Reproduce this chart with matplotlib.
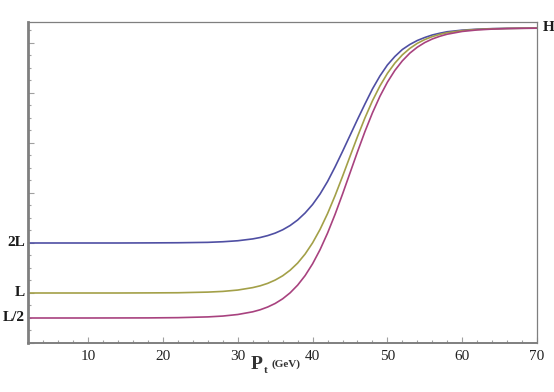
import numpy as np
import matplotlib
matplotlib.use('Agg')
from matplotlib import pyplot as plt
from matplotlib.ticker import MultipleLocator

# transverse momentum (GeV)
pt = [2, 6, 10, 14, 18, 22, 26, 28, 30, 32, 33, 34, 35, 36, 37, 38, 39, 40,
      41, 42, 43, 44, 45, 46, 47, 48, 49, 50, 51, 52, 53, 54, 55, 56, 57, 58,
      60, 62, 64, 66, 68, 70]

# curves, in units of L (H ~ 6.3 L)
curve_2L = [2.00, 2.00, 2.00, 2.00, 2.002, 2.005, 2.013, 2.025, 2.045, 2.082,
            2.11, 2.148, 2.198, 2.264, 2.35, 2.46, 2.60, 2.77, 2.98, 3.23,
            3.52, 3.83, 4.15, 4.47, 4.78, 5.08, 5.34, 5.56, 5.73, 5.87, 5.97,
            6.05, 6.11, 6.16, 6.195, 6.225, 6.257, 6.276, 6.287, 6.293, 6.296,
            6.298]
curve_L = [1.00, 1.00, 1.00, 1.00, 1.002, 1.005, 1.018, 1.032, 1.059, 1.108,
           1.144, 1.193, 1.259, 1.344, 1.456, 1.598, 1.779, 2.003, 2.273,
           2.588, 2.945, 3.331, 3.731, 4.127, 4.502, 4.843, 5.140, 5.392,
           5.598, 5.763, 5.892, 5.993, 6.069, 6.128, 6.172, 6.205, 6.248,
           6.271, 6.284, 6.291, 6.295, 6.297]
curve_L2 = [0.50, 0.50, 0.50, 0.501, 0.502, 0.507, 0.522, 0.539, 0.570, 0.624,
            0.665, 0.720, 0.791, 0.884, 1.004, 1.157, 1.348, 1.584, 1.867,
            2.198, 2.571, 2.977, 3.400, 3.823, 4.229, 4.602, 4.933, 5.216,
            5.452, 5.643, 5.797, 5.916, 6.009, 6.080, 6.134, 6.176, 6.231,
            6.261, 6.278, 6.288, 6.293, 6.296]

level_labels = ['2L', 'L', 'L/2']
level_values = [2.0, 1.0, 0.5]
H_value = 6.3

colors = ['#4f4fa3', '#a3a048', '#a8427f']
gray = '#7f7f7f'

fig = plt.figure(figsize=(5.54, 3.92), dpi=100)
ax = fig.add_axes([0.0505, 0.125, 0.9188, 0.8189])

for ys, c in zip([curve_2L, curve_L, curve_L2], colors):
    ax.plot(pt, ys, color=c, lw=1.2, solid_capstyle='round', clip_on=False)

ax.set_xlim(1.95, 70)
ax.set_ylim(0, 6.42)

# axes look
for side in ['top', 'right']:
    ax.spines[side].set_color(gray)
    ax.spines[side].set_linewidth(0.9)
ax.spines['left'].set_color(gray)
ax.spines['left'].set_linewidth(2.0)
ax.spines['bottom'].set_color(gray)
ax.spines['bottom'].set_linewidth(1.4)

ax.xaxis.set_major_locator(MultipleLocator(10))
ax.xaxis.set_minor_locator(MultipleLocator(2))
ax.yaxis.set_major_locator(MultipleLocator(1))
ax.yaxis.set_minor_locator(MultipleLocator(0.25))
ax.tick_params(which='both', direction='in', color='#a0a0a0', width=0.8)
ax.tick_params(which='major', length=4)
ax.tick_params(which='minor', length=2.5)
ax.tick_params(axis='y', labelleft=False)
ax.tick_params(axis='x', labelsize=11, pad=5)
for lab in ax.get_xticklabels():
    lab.set_family('Liberation Serif')
    lab.set_color('#222222')

# level labels on the left, H on the right
for txt, v in zip(level_labels, level_values):
    ax.text(-0.006, v, txt, transform=ax.get_yaxis_transform(), ha='right',
            va='center', fontsize=11, fontweight='bold',
            family='Liberation Serif', color='#1a1a1a')
ax.text(1.011, H_value, 'H', transform=ax.get_yaxis_transform(), ha='left',
        va='center', fontsize=11, fontweight='bold',
        family='Liberation Serif', color='#1a1a1a')

# axis label P_t (GeV)
fig.text(0.452, 0.058, 'P', fontsize=14, fontweight='bold',
         family='Liberation Serif', color='#333333', ha='left', va='baseline')
fig.text(0.476, 0.049, 't', fontsize=8, fontweight='bold',
         family='Liberation Serif', color='#333333', ha='left', va='baseline')
fig.text(0.490, 0.065, '(GeV)', fontsize=8, fontweight='bold',
         family='Liberation Serif', color='#333333', ha='left', va='baseline')

fig.savefig('out.png', dpi=100)
